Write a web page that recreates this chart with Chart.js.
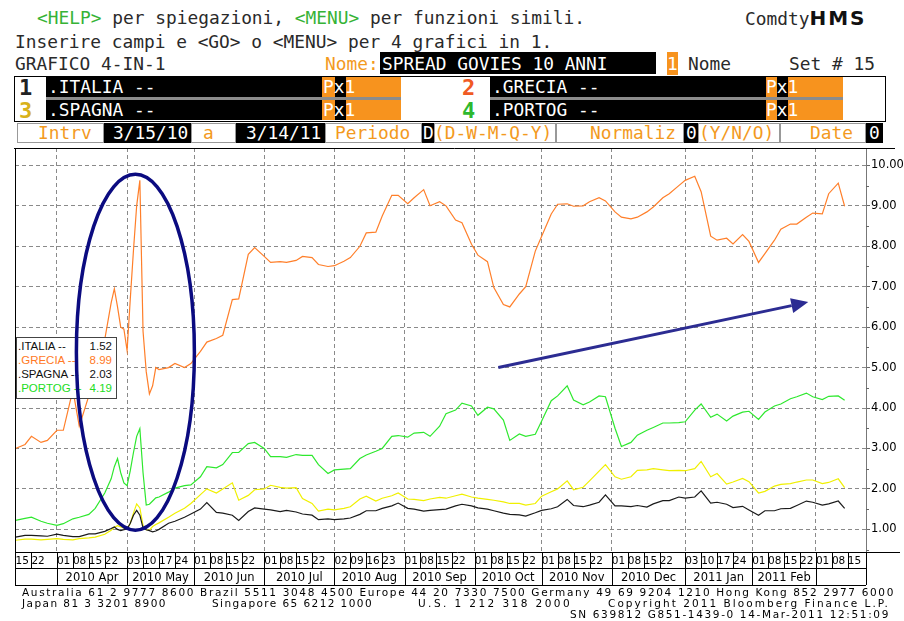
<!DOCTYPE html>
<html>
<head>
<meta charset="utf-8">
<script src="https://cdn.jsdelivr.net/npm/chart.js@4.4.1/dist/chart.umd.min.js"></script>
<style>
  body { margin:0; width:904px; height:621px; background:#fff; overflow:hidden; position:relative; }
  .t { position:absolute; white-space:pre; font-family:'DejaVu Sans Mono', monospace; font-size:17.85px; line-height:20px; color:#2a2a2a; }
  .g { color:#36b336; }
  .o { color:#f39a1e; }
  .w { color:#fff; }
  .b { position:absolute; }
  .hms { font-family:'DejaVu Sans', sans-serif; font-weight:bold; font-size:20px; letter-spacing:2px; color:#111; }
  .dig { position:absolute; font-family:'DejaVu Sans Mono', monospace; font-weight:bold; font-size:22px; line-height:20px; }
  .foot { position:absolute; white-space:pre; font-family:'DejaVu Sans', sans-serif; font-size:10.5px; line-height:11px; color:#000; }
  #legend { position:absolute; left:16px; top:337px; width:101px; height:62px; box-sizing:border-box; border:1px solid #444; background:#fff; padding-top:1px; z-index:2; font-family:'Liberation Sans', Arial, sans-serif; font-size:11.5px; }
  #legend div { position:relative; height:14px; line-height:14px; }
  #legend span.v { position:absolute; right:4px; }
  #legend span.n { position:absolute; left:1px; }
  canvas { position:absolute; left:0; top:140px; }
  #ov { z-index:3; pointer-events:none; }
</style>
</head>
<body>

<!-- terminal header -->
<div class="t" style="left:37px;top:8px"><span class="g">&lt;HELP&gt;</span> per spiegazioni, <span class="g">&lt;MENU&gt;</span> per funzioni simili.</div>
<div class="t" style="left:745px;top:8px">Comdty<span class="hms">HMS</span></div>
<div class="t" style="left:15px;top:32px">Inserire campi e &lt;GO&gt; o &lt;MENU&gt; per 4 grafici in 1.</div>
<div class="t" style="left:15px;top:54px">GRAFICO 4-IN-1</div>
<div class="t o" style="left:325px;top:54px">Nome:</div>
<div class="b" style="left:380px;top:52px;width:276px;height:22px;background:#000"></div>
<div class="t w" style="left:382px;top:54px">SPREAD GOVIES 10 ANNI</div>
<div class="b" style="left:667px;top:52px;width:11px;height:23px;background:#f7931e"></div>
<div class="t w" style="left:667px;top:54px">1</div>
<div class="t" style="left:688px;top:54px">Nome</div>
<div class="t" style="left:789px;top:54px">Set # 15</div>

<!-- series rows -->
<div class="b" style="left:14px;top:76px;width:872px;height:46px;box-sizing:border-box;border:1px solid #000"></div>
<div class="b" style="left:46px;top:77px;width:276px;height:20px;background:#000"></div>
<div class="b" style="left:322px;top:77px;width:13px;height:20px;background:#f7931e"></div>
<div class="b" style="left:335px;top:77px;width:11px;height:20px;background:#000"></div>
<div class="b" style="left:346px;top:77px;width:55px;height:20px;background:#f7931e"></div>
<div class="b" style="left:490px;top:77px;width:276px;height:20px;background:#000"></div>
<div class="b" style="left:766px;top:77px;width:11px;height:20px;background:#f7931e"></div>
<div class="b" style="left:777px;top:77px;width:11px;height:20px;background:#000"></div>
<div class="b" style="left:788px;top:77px;width:55px;height:20px;background:#f7931e"></div>
<div class="b" style="left:46px;top:97px;width:355px;height:3px;background:#8c8c8c"></div>
<div class="b" style="left:490px;top:97px;width:353px;height:3px;background:#8c8c8c"></div>
<div class="b" style="left:46px;top:100px;width:276px;height:20px;background:#000"></div>
<div class="b" style="left:322px;top:100px;width:13px;height:20px;background:#f7931e"></div>
<div class="b" style="left:335px;top:100px;width:11px;height:20px;background:#000"></div>
<div class="b" style="left:346px;top:100px;width:55px;height:20px;background:#f7931e"></div>
<div class="b" style="left:490px;top:100px;width:276px;height:20px;background:#000"></div>
<div class="b" style="left:766px;top:100px;width:11px;height:20px;background:#f7931e"></div>
<div class="b" style="left:777px;top:100px;width:11px;height:20px;background:#000"></div>
<div class="b" style="left:788px;top:100px;width:55px;height:20px;background:#f7931e"></div>

<div class="dig" style="left:19px;top:78px;color:#222">1</div>
<div class="t w" style="left:48px;top:77px">.ITALIA --</div>
<div class="t w" style="left:323px;top:77px">Px1</div>
<div class="dig" style="left:462px;top:78px;color:#f05a24">2</div>
<div class="t w" style="left:492px;top:77px">.GRECIA --</div>
<div class="t w" style="left:766px;top:77px">Px1</div>
<div class="dig" style="left:19px;top:101px;color:#d9b21a">3</div>
<div class="t w" style="left:48px;top:100px">.SPAGNA --</div>
<div class="t w" style="left:323px;top:100px">Px1</div>
<div class="dig" style="left:462px;top:101px;color:#2eb82e">4</div>
<div class="t w" style="left:492px;top:100px">.PORTOG --</div>
<div class="t w" style="left:766px;top:100px">Px1</div>

<!-- interval row -->
<div class="b" style="left:104px;top:123px;width:779px;height:20px;background:#000"></div>
<div class="b" style="left:17px;top:123px;width:87px;height:20px;background:#fff;box-sizing:border-box;border:1px solid #999"></div>
<div class="b" style="left:191px;top:123px;width:45px;height:20px;background:#fff;box-sizing:border-box;border:1px solid #999"></div>
<div class="b" style="left:325px;top:123px;width:97px;height:20px;background:#fff;box-sizing:border-box;border:1px solid #999"></div>
<div class="b" style="left:434px;top:123px;width:122px;height:20px;background:#fff;box-sizing:border-box;border:1px solid #999"></div>
<div class="b" style="left:556px;top:123px;width:128px;height:20px;background:#fff;box-sizing:border-box;border:1px solid #999"></div>
<div class="b" style="left:698px;top:123px;width:82px;height:20px;background:#fff;box-sizing:border-box;border:1px solid #999"></div>
<div class="b" style="left:780px;top:123px;width:86px;height:20px;background:#fff;box-sizing:border-box;border:1px solid #999"></div>
<div class="t o" style="left:38px;top:123px">Intrv</div>
<div class="t w" style="left:113px;top:123px">3/15/10</div>
<div class="t o" style="left:203px;top:123px">a</div>
<div class="t w" style="left:246px;top:123px">3/14/11</div>
<div class="t o" style="left:335px;top:123px">Periodo</div>
<div class="t w" style="left:423px;top:123px">D</div>
<div class="t o" style="left:434px;top:123px">(D-W-M-Q-Y)</div>
<div class="t o" style="left:590px;top:123px">Normaliz</div>
<div class="t w" style="left:686px;top:123px">0</div>
<div class="t o" style="left:699px;top:123px">(Y/N/O)</div>
<div class="t o" style="left:810px;top:123px">Date</div>
<div class="t w" style="left:869px;top:123px">0</div>

<canvas id="c" width="904" height="450"></canvas>
<canvas id="ov" width="904" height="450"></canvas>
<div id="legend"></div>

<!-- footer -->
<div class="foot fit" data-w="873" style="left:22px;top:587px">Australia 61 2 9777 8600 Brazil 5511 3048 4500 Europe 44 20 7330 7500 Germany 49 69 9204 1210 Hong Kong 852 2977 6000</div>
<div class="foot fit" data-w="145" style="left:22px;top:598px">Japan 81 3 3201 8900</div>
<div class="foot fit" data-w="161" style="left:212px;top:598px">Singapore 65 6212 1000</div>
<div class="foot fit" data-w="154" style="left:418px;top:598px">U.S. 1 212 318 2000</div>
<div class="foot fit" data-w="282" style="left:608px;top:598px">Copyright 2011 Bloomberg Finance L.P.</div>
<div class="foot fit" data-w="320" style="left:570px;top:608.5px">SN 639812 G851-1439-0 14-Mar-2011 12:51:09</div>

<script>
// sample dates (business days)
const dates = [
  '2010-03-15','2010-03-18','2010-03-22','2010-03-25','2010-03-29',
  '2010-04-01','2010-04-05','2010-04-08','2010-04-12','2010-04-15','2010-04-19','2010-04-22','2010-04-26','2010-04-27','2010-04-28','2010-04-29','2010-04-30',
  '2010-05-03','2010-05-04','2010-05-05','2010-05-06','2010-05-07','2010-05-10','2010-05-11','2010-05-12','2010-05-13','2010-05-14','2010-05-17','2010-05-20','2010-05-24','2010-05-27','2010-05-31',
  '2010-06-03','2010-06-07','2010-06-10','2010-06-14','2010-06-17','2010-06-21','2010-06-24','2010-06-28',
  '2010-07-01','2010-07-05','2010-07-08','2010-07-12','2010-07-15','2010-07-19','2010-07-22','2010-07-26','2010-07-29',
  '2010-08-02','2010-08-05','2010-08-09','2010-08-12','2010-08-16','2010-08-19','2010-08-23','2010-08-26','2010-08-30',
  '2010-09-02','2010-09-06','2010-09-09','2010-09-13','2010-09-16','2010-09-20','2010-09-23','2010-09-27','2010-09-30',
  '2010-10-04','2010-10-07','2010-10-11','2010-10-14','2010-10-18','2010-10-21','2010-10-25','2010-10-28',
  '2010-11-01','2010-11-04','2010-11-08','2010-11-11','2010-11-15','2010-11-18','2010-11-22','2010-11-25','2010-11-29',
  '2010-12-02','2010-12-06','2010-12-09','2010-12-13','2010-12-16','2010-12-20','2010-12-23','2010-12-27','2010-12-30',
  '2011-01-03','2011-01-06','2011-01-10','2011-01-13','2011-01-17','2011-01-20','2011-01-24','2011-01-27','2011-01-31',
  '2011-02-03','2011-02-07','2011-02-10','2011-02-14','2011-02-17','2011-02-21','2011-02-24','2011-02-28',
  '2011-03-03','2011-03-07','2011-03-10','2011-03-14'
];

const italia = [
  0.81,0.85,0.85,0.84,0.83,
  0.88,0.85,0.82,0.82,0.89,0.89,0.95,1.02,1.06,1.00,0.97,0.99,
  1.01,1.15,1.35,1.47,1.35,1.03,0.99,0.97,0.94,0.96,1.00,1.15,1.20,1.30,1.38,
  1.50,1.66,1.42,1.40,1.35,1.22,1.44,1.53,
  1.50,1.48,1.44,1.47,1.43,1.38,1.35,1.24,1.26,
  1.24,1.26,1.28,1.37,1.46,1.46,1.52,1.58,1.65,
  1.52,1.50,1.45,1.47,1.49,1.50,1.58,1.62,1.58,
  1.53,1.50,1.46,1.40,1.37,1.36,1.33,1.41,
  1.47,1.51,1.56,1.74,1.59,1.56,1.60,1.67,1.85,
  1.58,1.58,1.56,1.59,1.55,1.63,1.71,1.71,1.80,
  1.77,1.80,1.95,1.65,1.67,1.62,1.54,1.57,1.48,
  1.35,1.46,1.46,1.51,1.52,1.59,1.70,1.67,
  1.60,1.63,1.70,1.52
];

const grecia = [
  3.00,3.10,3.30,3.15,3.20,
  3.45,3.45,4.45,3.55,4.30,4.80,5.70,6.60,6.95,6.50,6.00,5.95,
  5.42,6.70,7.90,9.00,9.63,5.90,4.90,4.35,4.55,5.00,4.95,5.00,5.10,5.00,5.10,
  5.40,5.63,5.72,5.80,6.68,6.70,7.80,7.97,
  7.75,7.60,7.62,7.60,7.65,7.75,7.72,7.55,7.50,
  7.52,7.63,7.72,8.00,8.33,8.35,8.75,9.26,9.26,
  9.05,9.20,9.40,9.00,9.10,9.00,8.65,8.58,8.05,
  7.78,7.62,6.98,6.56,6.50,6.82,7.00,7.88,
  8.25,8.80,9.04,9.05,8.99,9.00,9.10,9.20,9.12,
  8.85,8.72,8.68,8.72,8.85,8.97,9.20,9.30,9.50,
  9.63,9.73,9.35,8.25,8.15,8.20,8.06,8.29,8.12,
  7.60,7.82,8.15,8.42,8.55,8.55,8.72,8.82,
  8.80,9.30,9.56,8.99
];

const spagna = [
  0.73,0.76,0.76,0.74,0.75,
  0.77,0.75,0.74,0.77,0.79,0.81,0.88,0.98,1.05,1.09,1.06,1.03,
  1.01,1.15,1.40,1.63,1.53,1.10,0.99,0.98,1.07,1.12,1.16,1.30,1.40,1.52,1.64,
  1.86,2.00,1.90,2.00,2.15,1.72,1.84,1.98,
  2.00,2.09,2.04,2.02,2.03,1.76,1.64,1.45,1.50,
  1.48,1.52,1.56,1.75,1.82,1.70,1.77,1.83,1.90,
  1.75,1.74,1.71,1.75,1.79,1.77,1.83,1.87,1.80,
  1.77,1.74,1.72,1.68,1.64,1.64,1.60,1.64,
  1.82,1.93,2.00,2.20,1.98,2.04,2.20,2.44,2.60,
  2.30,2.24,2.30,2.46,2.47,2.50,2.47,2.45,2.46,
  2.45,2.50,2.68,2.30,2.38,2.12,2.17,2.26,2.18,
  1.90,1.94,2.07,2.11,2.13,2.17,2.22,2.22,
  2.13,2.16,2.25,2.03
];

const portogallo = [
  1.22,1.27,1.30,1.20,1.15,
  1.10,1.14,1.26,1.30,1.37,1.52,1.90,2.25,2.55,2.75,2.40,2.15,
  2.08,2.45,2.90,3.30,3.49,2.40,1.60,1.62,1.70,1.78,1.80,1.92,2.02,2.08,2.10,
  2.30,2.55,2.52,2.60,2.90,2.90,3.12,3.15,
  3.00,2.80,2.80,2.78,2.85,2.83,2.83,2.60,2.38,
  2.47,2.49,2.50,2.75,2.84,2.93,3.00,3.30,3.32,
  3.28,3.38,3.40,3.30,3.55,3.86,3.95,4.12,4.05,
  3.82,4.02,3.98,3.70,3.20,3.36,3.30,3.35,
  3.68,4.18,4.30,4.55,4.20,4.08,4.15,4.30,4.28,
  3.50,3.05,3.15,3.33,3.45,3.52,3.63,3.63,3.64,
  3.66,3.95,4.10,3.77,3.85,3.68,3.80,3.90,3.92,
  3.72,3.90,4.05,4.10,4.23,4.28,4.37,4.28,
  4.21,4.29,4.30,4.19
];

// x axis tick rows
const dayTicks = [
  '2010-03-15','2010-03-22','2010-04-01','2010-04-08','2010-04-15','2010-04-22',
  '2010-05-03','2010-05-10','2010-05-17','2010-05-24','2010-06-01','2010-06-08','2010-06-15','2010-06-22',
  '2010-07-01','2010-07-08','2010-07-15','2010-07-22','2010-08-02','2010-08-09','2010-08-16','2010-08-23',
  '2010-09-01','2010-09-08','2010-09-15','2010-09-22','2010-10-01','2010-10-08','2010-10-15','2010-10-22',
  '2010-11-01','2010-11-08','2010-11-15','2010-11-22','2010-12-01','2010-12-08','2010-12-15','2010-12-22',
  '2011-01-03','2011-01-10','2011-01-17','2011-01-24','2011-02-01','2011-02-08','2011-02-15','2011-02-22',
  '2011-03-01','2011-03-08','2011-03-15'
];
const monthStarts = ['2010-03-15','2010-04-01','2010-05-03','2010-06-01','2010-07-01','2010-08-02','2010-09-01',
  '2010-10-01','2010-11-01','2010-12-01','2011-01-03','2011-02-01','2011-03-01'];
const monthLabels = ['', '2010 Apr', '2010 May', '2010 Jun', '2010 Jul', '2010 Aug', '2010 Sep',
  '2010 Oct', '2010 Nov', '2010 Dec', '2011 Jan', '2011 Feb', ''];
const yTicks = [1, 2, 3, 4, 5, 6, 7, 8, 9, 10];

const series = [
  { name: '.ITALIA --', vals: italia,     color: '#1a1a1a', text: '#111' },
  { name: '.GRECIA --', vals: grecia,     color: '#ff7f2a', text: '#ff7a26' },
  { name: '.SPAGNA --', vals: spagna,     color: '#f0f000', text: '#111' },
  { name: '.PORTOG --', vals: portogallo, color: '#2ee82e', text: '#22dd22' }
];

// business-day index since 15 Mar 2010 (weekends skipped)
const START = Date.UTC(2010, 2, 15);
function bizDay(s) {
  const [y, m, d] = s.split('-').map(Number);
  const days = Math.round((Date.UTC(y, m - 1, d) - START) / 86400000);
  return Math.floor(days / 7) * 5 + Math.min(days % 7, 5);
}

const X_MIN = -0.15, X_MAX = 266.7;
const monthPos = monthStarts.map(bizDay);
const monthMid = monthPos.map((p, i) => (p + (i + 1 < monthPos.length ? monthPos[i + 1] : X_MAX)) / 2);

// legend box
const lg = document.getElementById('legend');
series.forEach(s => {
  const row = document.createElement('div');
  row.style.color = s.text;
  row.innerHTML = '<span class="n">' + s.name + '</span><span class="v">' + s.vals[s.vals.length - 1].toFixed(2) + '</span>';
  lg.appendChild(row);
});

// footer lines stretched to the measured widths
document.querySelectorAll('.fit').forEach(el => {
  const w = el.getBoundingClientRect().width;
  el.style.letterSpacing = ((+el.dataset.w - w) / el.textContent.length) + 'px';
});

function fixed(h) {
  return s => { s.height = h; s.paddingLeft = 0; s.paddingRight = 0; };
}

// frame, label table and minor y ticks
const framePlugin = {
  id: 'frame',
  afterDraw(chart) {
    const { ctx, chartArea: a, scales } = chart;
    const xd = scales.xDays, xm = scales.xMonths, y = scales.y;
    const px = v => Math.round(v) + 0.5;
    const line = (x1, y1, x2, y2) => { ctx.beginPath(); ctx.moveTo(x1, y1); ctx.lineTo(x2, y2); ctx.stroke(); };
    ctx.save();
    ctx.lineWidth = 1;
    ctx.strokeStyle = '#000';
    line(14, px(a.top), 895, px(a.top));
    line(px(a.left), a.top, px(a.left), xm.bottom);
    line(a.left, px(a.bottom), 900, px(a.bottom));
    line(a.left, px(xd.bottom), a.right, px(xd.bottom));
    line(a.left, px(xm.bottom), a.right, px(xm.bottom));
    line(px(a.right), a.bottom, px(a.right), xm.bottom);
    dayTicks.forEach(d => {
      const x = px(xd.getPixelForValue(bizDay(d)));
      line(x, xd.top, x, xd.bottom);
    });
    monthPos.forEach(p => {
      const x = px(xm.getPixelForValue(p));
      line(x, xm.top, x, xm.bottom);
    });
    ctx.strokeStyle = '#666';
    for (let v = 0.5; v < 10.4; v += 1) {
      const yy = px(y.getPixelForValue(v));
      line(a.right, yy, a.right + 3, yy);
    }
    ctx.restore();

    // hand-drawn annotations on top of everything (ellipse + trend arrow)
    const o = document.getElementById('ov').getContext('2d');
    const X = v => scales.x.getPixelForValue(v), Y = v => y.getPixelForValue(v);
    o.clearRect(0, 0, 904, 450);
    o.save();
    o.strokeStyle = '#0b0b80';
    o.lineWidth = 3.5;
    o.beginPath();
    o.ellipse(X(37.6), Y(5.38), X(37.6 + 18.5) - X(37.6), Y(5.38) - Y(9.78), 0, 0, Math.PI * 2);
    o.stroke();
    const x1 = X(151.4), y1 = Y(5.0), x2 = X(248.6), y2 = Y(6.62);
    const ang = Math.atan2(y2 - y1, x2 - x1), hl = 17, hw = 7.5;
    const bx = x2 - hl * Math.cos(ang), by = y2 - hl * Math.sin(ang);
    o.strokeStyle = o.fillStyle = '#2c2c92';
    o.lineWidth = 3;
    o.beginPath(); o.moveTo(x1, y1); o.lineTo(bx, by); o.stroke();
    o.beginPath();
    o.moveTo(x2, y2);
    o.lineTo(bx + hw * Math.sin(ang), by - hw * Math.cos(ang));
    o.lineTo(bx - hw * Math.sin(ang), by + hw * Math.cos(ang));
    o.closePath(); o.fill();
    o.restore();
  }
};

const tickFont = { family: 'DejaVu Sans', size: 10.5 };

new Chart(document.getElementById('c'), {
  type: 'line',
  data: {
    datasets: series.map(s => ({
      label: s.name,
      data: dates.map((d, i) => ({ x: bizDay(d), y: s.vals[i] })),
      borderColor: s.color,
      borderWidth: 1.2,
      pointRadius: 0,
      tension: 0,
      fill: false
    }))
  },
  options: {
    responsive: false,
    animation: false,
    devicePixelRatio: 1,
    layout: { padding: { left: 15, top: 8, right: 0, bottom: 5 } },
    plugins: { legend: { display: false }, tooltip: { enabled: false } },
    scales: {
      x: {
        type: 'linear', min: X_MIN, max: X_MAX, weight: 0,
        afterBuildTicks: s => { s.ticks = monthPos.slice(1).map(v => ({ value: v })); },
        afterFit: fixed(0),
        ticks: { display: false },
        grid: { color: '#8a8a8a', drawTicks: false },
        border: { display: false, dash: [4, 3] }
      },
      xDays: {
        type: 'linear', position: 'bottom', min: X_MIN, max: X_MAX, weight: 1,
        afterBuildTicks: s => { s.ticks = dayTicks.map(d => ({ value: bizDay(d) })); },
        afterFit: fixed(16),
        ticks: { autoSkip: false, maxRotation: 0, align: 'start', padding: 3, font: tickFont, color: '#000',
          callback: (v, i) => dayTicks[i].slice(8) },
        grid: { display: false, drawTicks: false },
        border: { display: false }
      },
      xMonths: {
        type: 'linear', position: 'bottom', min: X_MIN, max: X_MAX, weight: 2,
        afterBuildTicks: s => { s.ticks = monthMid.map(v => ({ value: v })); },
        afterFit: fixed(17),
        ticks: { autoSkip: false, maxRotation: 0, padding: 3, font: { family: 'DejaVu Sans', size: 11.5 }, color: '#000',
          callback: (v, i) => monthLabels[i] },
        grid: { display: false, drawTicks: false },
        border: { display: false }
      },
      y: {
        type: 'linear', position: 'right', min: 0.44, max: 10.43,
        afterBuildTicks: s => { s.ticks = yTicks.map(v => ({ value: v })); },
        afterFit: s => { s.width = 38; s.paddingTop = 0; s.paddingBottom = 0; },
        ticks: { padding: 1, font: { family: 'DejaVu Sans', size: 11.5 }, color: '#000', callback: v => v.toFixed(2) },
        grid: { color: '#8a8a8a', drawTicks: true, tickLength: 4, tickColor: '#666', tickBorderDash: [] },
        border: { display: true, color: '#777', dash: [4, 3] }
      }
    }
  },
  plugins: [framePlugin]
});
</script>
</body>
</html>
